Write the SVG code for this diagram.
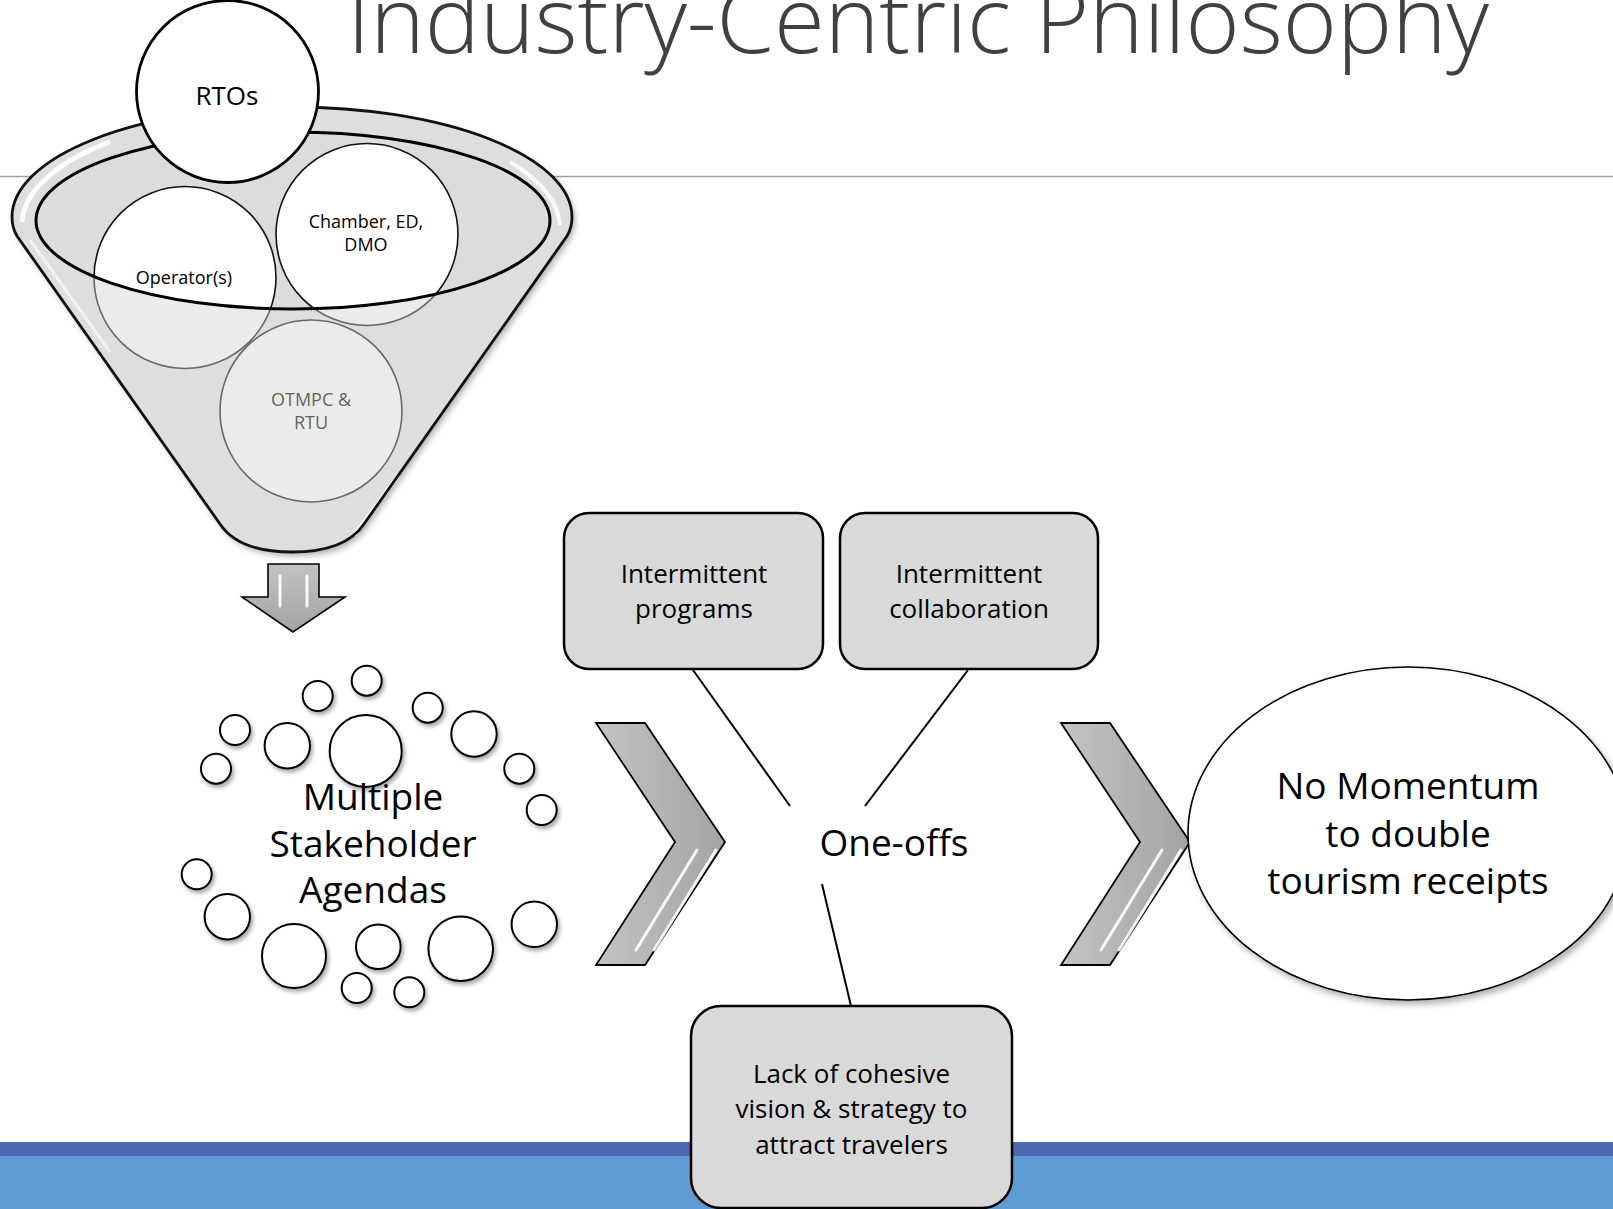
<svg xmlns="http://www.w3.org/2000/svg" width="1613" height="1209" viewBox="0 0 1613 1209">
  <defs>
    <style>
      text { font-family: "Open Sans", "Liberation Sans", sans-serif; fill: #000; text-anchor: middle; }
      .title { font-size: 93px; font-weight: 300; fill: #404040; text-anchor: start; }
      .small { font-size: 18px; }
      .mid { font-size: 26px; }
      .big { font-size: 37px; }
      .box { fill: #D9D9D9; stroke: #000; stroke-width: 2.5; }
      .bubble { fill: #fff; stroke: #000; stroke-width: 2; filter: url(#shadow); }
      .inner { fill: #fff; stroke: #111; stroke-width: 1.6; }
      .link { stroke: #000; stroke-width: 2; fill: none; }
      .chev { fill: url(#chevFill); stroke: #000; stroke-width: 1.8; stroke-linejoin: miter; }
      .shine { stroke: #fff; stroke-width: 3; stroke-linecap: round; fill: none; opacity: 0.9; }
    </style>
    <filter id="shadow" x="-30%" y="-30%" width="170%" height="170%">
      <feDropShadow dx="2" dy="3" stdDeviation="2" flood-color="#000" flood-opacity="0.35"/>
    </filter>
    <filter id="softShadow" x="-10%" y="-10%" width="130%" height="130%">
      <feDropShadow dx="3" dy="4" stdDeviation="3" flood-color="#000" flood-opacity="0.3"/>
    </filter>
    <linearGradient id="chevFill" x1="0" y1="0" x2="1" y2="0">
      <stop offset="0" stop-color="#C4C4C4"/>
      <stop offset="0.5" stop-color="#B3B3B3"/>
      <stop offset="1" stop-color="#A4A4A4"/>
    </linearGradient>
    <linearGradient id="arrowFill" x1="0" y1="0" x2="0" y2="1">
      <stop offset="0" stop-color="#C2C2C2"/>
      <stop offset="1" stop-color="#A3A3A3"/>
    </linearGradient>
  </defs>

  <!-- background -->
  <rect x="0" y="0" width="1613" height="1209" fill="#fff"/>
  <line x1="0" y1="176.5" x2="1613" y2="176.5" stroke="#A0A0A0" stroke-width="1.5"/>

  <!-- footer bands -->
  <rect x="0" y="1142" width="1613" height="14" fill="#4C66AF"/>
  <rect x="0" y="1156" width="1613" height="53" fill="#5E9CD3"/>

  <!-- title -->
  <text id="title" class="title" x="347" y="53" textLength="1142" lengthAdjust="spacingAndGlyphs">Industry-Centric Philosophy</text>

  <!-- funnel -->
  <g id="funnel">
    <!-- body with rim -->
    <path d="M 12,217 A 280,110 0 0 1 572,217 C 572,225 570,231 567,236 L 364,524 C 352,542 330,552 292,552 C 254,552 232,542 220,524 L 17,236 C 14,231 12,225 12,217 Z"
          fill="#E8E8E8" stroke="none" filter="url(#softShadow)"/>
    <!-- opening -->
    <ellipse cx="293" cy="220.5" rx="257" ry="88.5" fill="#DCDCDC"/>

    <g id="node-operators">
      <circle class="inner" cx="185" cy="277.5" r="91"/>
      <text class="small" x="184" y="284">Operator(s)</text>
    </g>
    <g id="node-chamber">
      <circle class="inner" cx="367" cy="234.5" r="91"/>
      <text class="small" x="366" y="228">Chamber, ED,</text>
      <text class="small" x="366" y="251">DMO</text>
    </g>
    <g id="node-otmpc">
      <circle class="inner" cx="311" cy="411" r="91"/>
      <text class="small" x="311" y="406">OTMPC &amp;</text>
      <text class="small" x="311" y="429">RTU</text>
    </g>

    <!-- translucent front of the funnel -->
    <path fill-rule="evenodd" fill="#D2D2D2" fill-opacity="0.45"
          d="M 12,217 A 280,110 0 0 1 572,217 C 572,225 570,231 567,236 L 364,524 C 352,542 330,552 292,552 C 254,552 232,542 220,524 L 17,236 C 14,231 12,225 12,217 Z
             M 36,220.5 A 257,88.5 0 1 0 550,220.5 A 257,88.5 0 1 0 36,220.5 Z"/>

    <!-- bevel highlights -->
    <path d="M 22,222 C 24,190 60,160 110,142" stroke="#fff" stroke-width="5" fill="none" opacity="0.9"/>
    <path d="M 560,225 C 558,200 540,180 510,162" stroke="#fff" stroke-width="4" fill="none" opacity="0.8"/>
    <path d="M 398,476 L 355,534" stroke="#fff" stroke-width="4" fill="none" opacity="0.85" stroke-linecap="round"/>
    <path d="M 30,240 L 110,352" stroke="#fff" stroke-width="3" fill="none" opacity="0.6"/>

    <!-- outlines -->
    <ellipse cx="293" cy="220.5" rx="257" ry="88.5" fill="none" stroke="#000" stroke-width="3"/>
    <path d="M 12,217 A 280,110 0 0 1 572,217 C 572,225 570,231 567,236 L 364,524 C 352,542 330,552 292,552 C 254,552 232,542 220,524 L 17,236 C 14,231 12,225 12,217 Z"
          fill="none" stroke="#111" stroke-width="2.8"/>

    <g id="node-rtos">
      <circle cx="227.5" cy="91.5" r="91" fill="#fff" stroke="#000" stroke-width="2.8"/>
      <text class="mid" x="227" y="105">RTOs</text>
    </g>
  </g>

  <!-- down arrow under the funnel -->
  <g id="arrow-down">
    <path d="M 268,564 L 319,564 L 319,597 L 345,597 L 293,632 L 242,597 L 268,597 Z" fill="url(#arrowFill)" stroke="#000" stroke-width="1.6"/>
    <line class="shine" x1="280" y1="576" x2="280" y2="606"/>
    <line class="shine" x1="307" y1="576" x2="307" y2="606"/>
  </g>

  <!-- stakeholder agendas -->
  <g id="stakeholders">
    <circle class="bubble" cx="366.7" cy="680.7" r="15"/>
    <circle class="bubble" cx="317.7" cy="696" r="15"/>
    <circle class="bubble" cx="427.7" cy="707.7" r="15"/>
    <circle class="bubble" cx="235" cy="730" r="15"/>
    <circle class="bubble" cx="287.3" cy="745.7" r="22.7"/>
    <circle class="bubble" cx="365.7" cy="751" r="36"/>
    <circle class="bubble" cx="474" cy="734" r="22.7"/>
    <circle class="bubble" cx="216" cy="768.7" r="15"/>
    <circle class="bubble" cx="519.3" cy="768.7" r="15"/>
    <circle class="bubble" cx="541.7" cy="810" r="15"/>
    <circle class="bubble" cx="196.7" cy="874.3" r="15"/>
    <circle class="bubble" cx="227.3" cy="916.7" r="22.7"/>
    <circle class="bubble" cx="534.3" cy="924.3" r="22.7"/>
    <circle class="bubble" cx="294" cy="956" r="32"/>
    <circle class="bubble" cx="378.3" cy="946.7" r="22.3"/>
    <circle class="bubble" cx="460.7" cy="948.7" r="32.3"/>
    <circle class="bubble" cx="356.7" cy="988" r="15"/>
    <circle class="bubble" cx="409.3" cy="992.3" r="15"/>
    <text class="big" x="373" y="810">Multiple</text>
    <text class="big" x="373" y="857">Stakeholder</text>
    <text class="big" x="373" y="903">Agendas</text>
  </g>

  <!-- chevrons -->
  <g id="chevron-1">
    <path class="chev" d="M 596,723 L 645,723 L 725,842 L 645,965 L 596,965 L 675,842 Z"/>
    <line class="shine" x1="697" y1="850" x2="636" y2="950"/>
    <line class="shine" x1="716" y1="850" x2="654" y2="950"/>
  </g>
  <g id="chevron-2">
    <path class="chev" d="M 1061,723 L 1110,723 L 1190,842 L 1110,965 L 1061,965 L 1140,842 Z"/>
    <line class="shine" x1="1162" y1="850" x2="1101" y2="950"/>
    <line class="shine" x1="1181" y1="850" x2="1119" y2="950"/>
  </g>

  <!-- connectors -->
  <g id="connectors">
    <line class="link" x1="693" y1="670" x2="790" y2="806"/>
    <line class="link" x1="968" y1="670" x2="865" y2="806"/>
    <line class="link" x1="822" y1="884" x2="851" y2="1006"/>
  </g>

  <g id="box-programs">
    <rect class="box" x="564" y="513" width="259" height="156" rx="25"/>
    <text class="mid" x="694" y="583">Intermittent</text>
    <text class="mid" x="694" y="618">programs</text>
  </g>
  <g id="box-collaboration">
    <rect class="box" x="840" y="513" width="258" height="156" rx="25"/>
    <text class="mid" x="969" y="583">Intermittent</text>
    <text class="mid" x="969" y="618">collaboration</text>
  </g>
  <g id="box-vision">
    <rect class="box" x="691" y="1006" width="321" height="202" rx="30"/>
    <text class="mid" x="851.5" y="1083">Lack of cohesive</text>
    <text class="mid" x="851.5" y="1118">vision &amp; strategy to</text>
    <text class="mid" x="851.5" y="1154">attract travelers</text>
  </g>

  <g id="one-offs">
    <text class="big" x="894" y="856">One-offs</text>
  </g>

  <g id="momentum">
    <ellipse cx="1408" cy="833.5" rx="220" ry="166.5" fill="#fff" stroke="#000" stroke-width="1.6" filter="url(#softShadow)"/>
    <text class="big" x="1408" y="799">No Momentum</text>
    <text class="big" x="1408" y="847">to double</text>
    <text class="big" x="1408" y="894">tourism receipts</text>
  </g>
</svg>
